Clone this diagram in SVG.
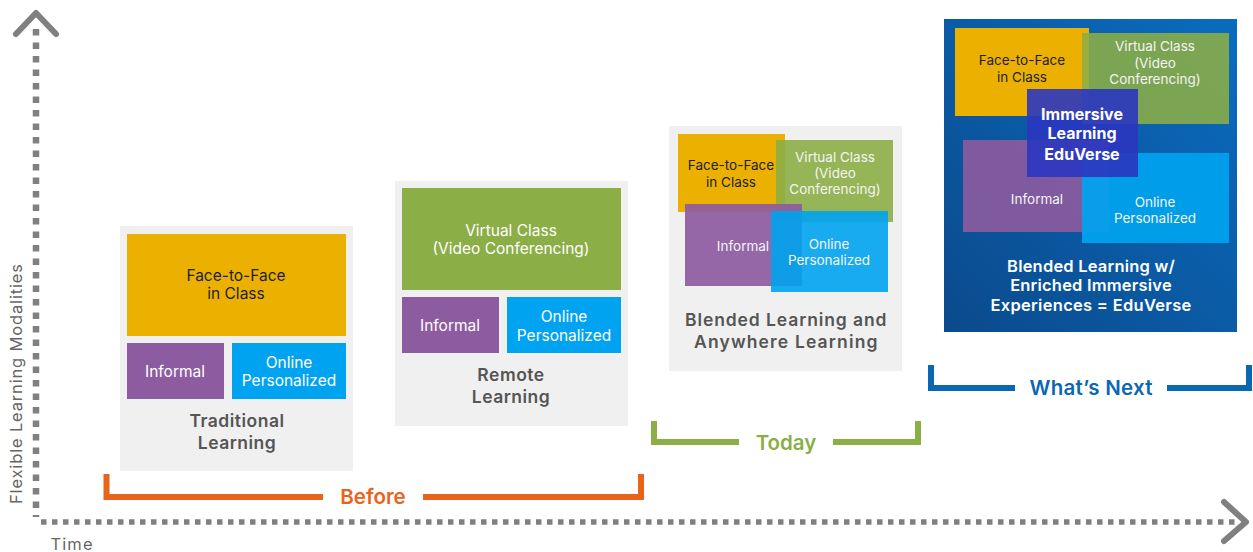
<svg xmlns="http://www.w3.org/2000/svg" width="1253" height="552" viewBox="0 0 1253 552">
  <defs>
    <linearGradient id="nextBg" x1="0" y1="1" x2="1" y2="0">
      <stop offset="0" stop-color="#0b4a8c"/>
      <stop offset="1" stop-color="#0a6cbf"/>
    </linearGradient>
  </defs>
  <style>
    text { font-family: Inter, "Liberation Sans", sans-serif; text-anchor: middle; }
    .panel { fill: #f0f0f0; }
    .f2f { fill: #ecb100; }
    .virt { fill: #8cae46; }
    .inf { fill: #8d5b9f; }
    .onl { fill: #00a3ef; }
    .lbl { font-size: 15.5px; fill: #ffffff; }
    .lbl-dark { font-size: 15.5px; fill: #1e1e2a; }
    .sm { font-size: 13.5px; fill: #f4f4f4; }
    .sm-dark { font-size: 13.5px; fill: #1e1e2a; }
    .title { font-size: 17.5px; font-weight: 600; fill: #555555; letter-spacing: 0.5px; }
    .next-title { font-size: 16.5px; font-weight: 600; fill: #ffffff; letter-spacing: 0.2px; }
    .axis-dots { fill: none; stroke: #808080; }
    .chev { fill: none; stroke: #808080; stroke-width: 6; stroke-linecap: round; stroke-linejoin: round; }
    .axis-lbl { font-size: 16.5px; fill: #666666; }
    .bracket { fill: none; stroke-width: 6; }
    .period { font-size: 20.5px; font-weight: 600; }
  </style>

  <!-- axes -->
  <g id="connectors">
    <path class="axis-dots" d="M36 29 V517" stroke-width="6.5" stroke-dasharray="6.5 7"/>
    <path class="axis-dots" d="M41 522 H1236" stroke-width="5.5" stroke-dasharray="5.5 5.5"/>
    <polyline class="chev" points="16,34 36,13 56,34"/>
    <polyline class="chev" points="1224,502 1246,522 1224,541"/>
    <text class="axis-lbl" transform="translate(22 384) rotate(-90)" textLength="240" lengthAdjust="spacing">Flexible Learning Modalities</text>
    <text class="axis-lbl" x="71.5" y="550" textLength="42" lengthAdjust="spacing">Time</text>
  </g>

  <!-- Traditional Learning -->
  <g id="traditional">
    <rect class="panel" x="120" y="226" width="233" height="245"/>
    <rect class="f2f" x="127" y="234" width="219" height="102"/>
    <rect class="inf" x="127" y="343" width="97" height="56"/>
    <rect class="onl" x="232" y="343" width="114" height="56"/>
    <text class="lbl-dark" x="236" y="281">Face-to-Face</text>
    <text class="lbl-dark" x="236" y="299">in Class</text>
    <text class="lbl" x="175" y="377">Informal</text>
    <text class="lbl" x="289" y="368">Online</text>
    <text class="lbl" x="289" y="386">Personalized</text>
    <text class="title" x="237" y="427">Traditional</text>
    <text class="title" x="237" y="449">Learning</text>
  </g>

  <!-- Remote Learning -->
  <g id="remote">
    <rect class="panel" x="395" y="181" width="233" height="245"/>
    <rect class="virt" x="402" y="188" width="219" height="102"/>
    <rect class="inf" x="402" y="297" width="97" height="56"/>
    <rect class="onl" x="507" y="297" width="114" height="56"/>
    <text class="lbl" x="511" y="236">Virtual Class</text>
    <text class="lbl" x="511" y="254">(Video Conferencing)</text>
    <text class="lbl" x="450" y="331">Informal</text>
    <text class="lbl" x="564" y="322">Online</text>
    <text class="lbl" x="564" y="341">Personalized</text>
    <text class="title" x="511" y="381">Remote</text>
    <text class="title" x="511" y="403">Learning</text>
  </g>

  <!-- Blended Learning and Anywhere Learning -->
  <g id="blended">
    <rect class="panel" x="669" y="126" width="233" height="245"/>
    <rect class="f2f" x="678" y="134" width="107" height="78"/>
    <rect class="virt" x="776" y="140" width="117" height="82" opacity="0.9"/>
    <rect class="inf" x="685" y="204" width="117" height="82" opacity="0.92"/>
    <rect class="onl" x="771" y="211" width="117" height="81" opacity="0.9"/>
    <text class="sm-dark" x="731" y="170">Face-to-Face</text>
    <text class="sm-dark" x="731" y="187">in Class</text>
    <text class="sm" x="835" y="162">Virtual Class</text>
    <text class="sm" x="835" y="178">(Video</text>
    <text class="sm" x="835" y="194">Conferencing)</text>
    <text class="sm" x="743" y="251">Informal</text>
    <text class="sm" x="829" y="249">Online</text>
    <text class="sm" x="829" y="265">Personalized</text>
    <text class="title" x="786" y="326" textLength="202" lengthAdjust="spacing">Blended Learning and</text>
    <text class="title" x="786" y="348" textLength="184" lengthAdjust="spacing">Anywhere Learning</text>
  </g>

  <!-- What's Next: EduVerse -->
  <g id="eduverse">
    <rect x="944" y="19" width="293" height="313" fill="url(#nextBg)"/>
    <rect class="f2f" x="955" y="28" width="134" height="88"/>
    <rect x="1082" y="33" width="147" height="91" fill="#8cae46" opacity="0.88"/>
    <rect class="inf" x="963" y="140" width="146" height="92" opacity="0.9"/>
    <rect x="1082" y="153" width="147" height="90" fill="#00a3ef" opacity="0.92"/>
    <rect x="1027" y="89" width="111" height="88" fill="#2a36c0" opacity="0.9"/>
    <text class="sm-dark" x="1022" y="65">Face-to-Face</text>
    <text class="sm-dark" x="1022" y="82">in Class</text>
    <text class="sm" x="1155" y="51">Virtual Class</text>
    <text class="sm" x="1155" y="68">(Video</text>
    <text class="sm" x="1155" y="84">Conferencing)</text>
    <text class="sm" x="1037" y="204">Informal</text>
    <text class="sm" x="1155" y="207">Online</text>
    <text class="sm" x="1155" y="223">Personalized</text>
    <text x="1082" y="120" font-size="16" font-weight="700" fill="#ffffff">Immersive</text>
    <text x="1082" y="139" font-size="16" font-weight="700" fill="#ffffff">Learning</text>
    <text x="1082" y="160" font-size="16" font-weight="700" fill="#ffffff">EduVerse</text>
    <text class="next-title" x="1091" y="272">Blended Learning w/</text>
    <text class="next-title" x="1091" y="291">Enriched Immersive</text>
    <text class="next-title" x="1091" y="311" textLength="201" lengthAdjust="spacing">Experiences = EduVerse</text>
  </g>

  <!-- period brackets -->
  <g id="before">
    <path class="bracket" stroke="#e8641b" d="M106.5 474 V497 H323 M423 497 H641 V474"/>
    <text class="period" x="373" y="504" fill="#e8641b">Before</text>
  </g>
  <g id="today">
    <path class="bracket" stroke="#8cae46" d="M654 421 V442 H739 M833 442 H918 V421"/>
    <text class="period" x="786" y="450" fill="#8cae46">Today</text>
  </g>
  <g id="whats-next">
    <path class="bracket" stroke="#0a67b3" d="M931 365 V388 H1015 M1167 388 H1249 V365"/>
    <text class="period" x="1091" y="395" fill="#0a67b3" textLength="123" lengthAdjust="spacing">What’s Next</text>
  </g>
</svg>
